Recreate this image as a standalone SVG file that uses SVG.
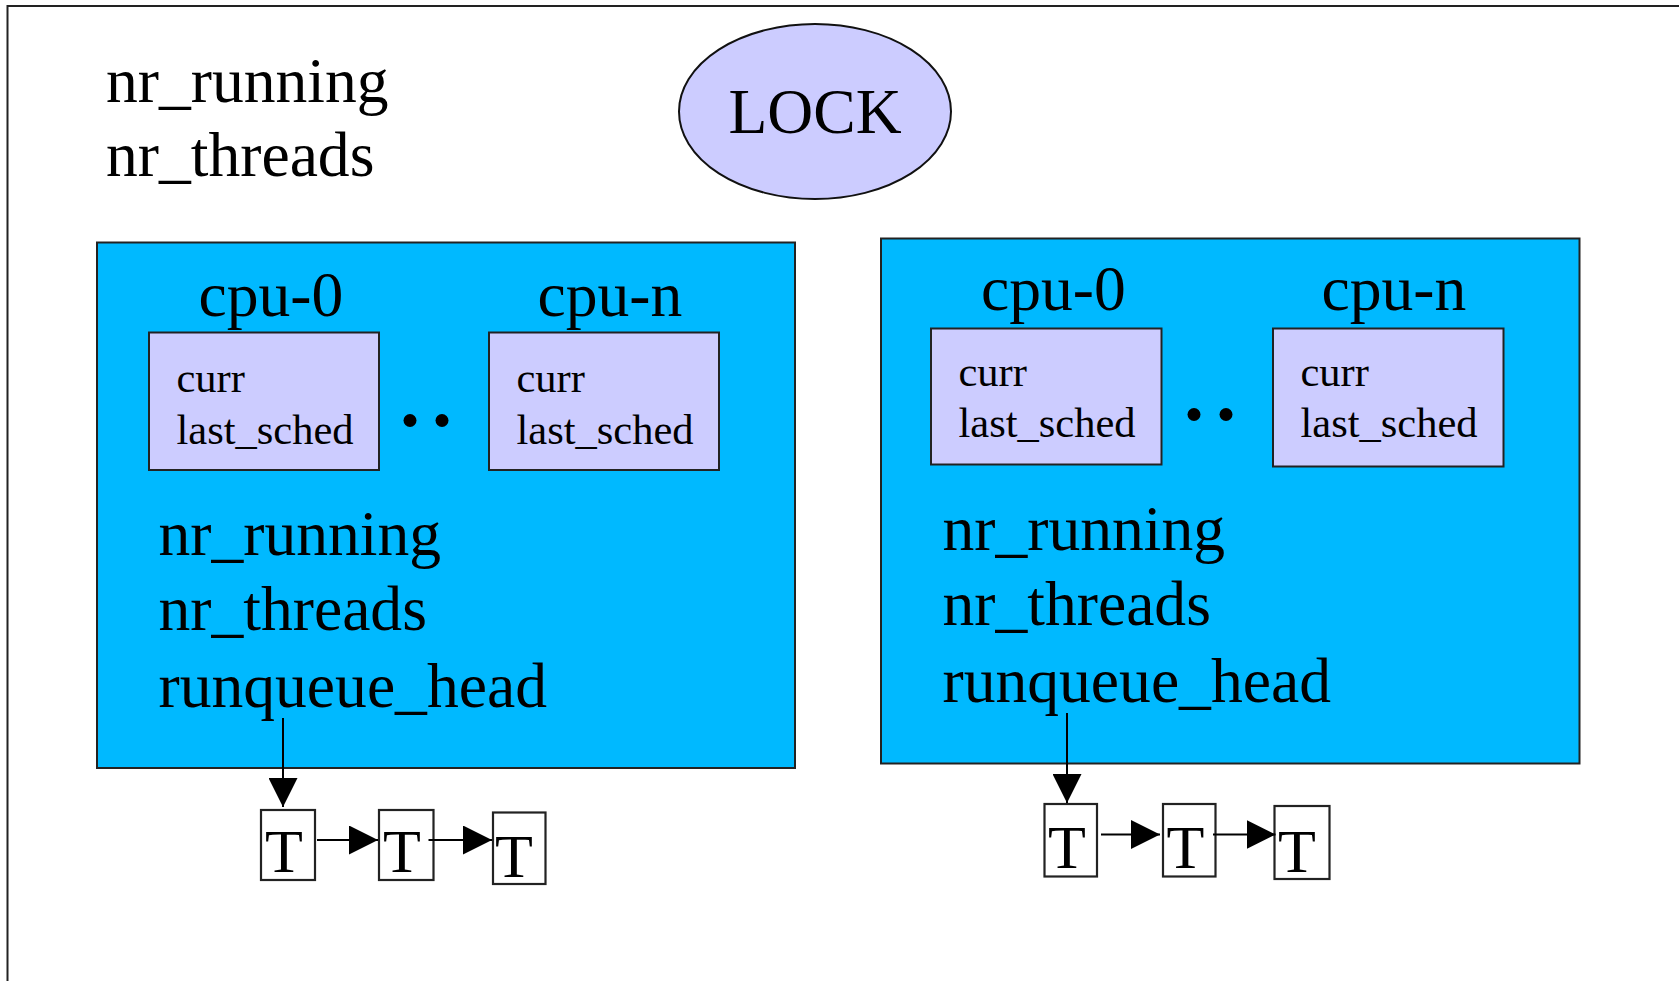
<svg xmlns="http://www.w3.org/2000/svg" width="1679" height="981" viewBox="0 0 1679 981">
  <style>
    .big { font-family: "Liberation Serif", "Times New Roman", serif; font-size: 63.6px; fill: #000; }
    .small { font-family: "Liberation Serif", "Times New Roman", serif; font-size: 42.5px; fill: #000; }
    .tl { font-family: "Liberation Serif", "Times New Roman", serif; font-size: 62px; fill: #000; }
    .rq { fill: #00b9ff; stroke: #222; stroke-width: 2; }
    .cpu { fill: #ccccff; stroke: #222; stroke-width: 2; }
    .task { fill: #fff; stroke: #222; stroke-width: 2.2; }
    .link { stroke: #000; stroke-width: 2; fill: none; marker-end: url(#head); }
  </style>
  <defs>
    <marker id="head" viewBox="0 0 29 29" refX="29" refY="14.5" markerWidth="29" markerHeight="29" markerUnits="userSpaceOnUse" orient="auto">
      <path d="M0,0 L29,14.5 L0,29 Z" fill="#000"/>
    </marker>
  </defs>

  <rect width="1679" height="981" fill="#fff"/>

  <!-- outer frame: open on right and bottom edges -->
  <rect id="frame" x="7.5" y="6" width="1700" height="1000" fill="none" stroke="#222" stroke-width="2"/>

  <g id="global-counters">
    <text class="big" x="106" y="102">nr_running</text>
    <text class="big" x="106" y="176">nr_threads</text>
  </g>

  <g id="lock">
    <ellipse cx="815" cy="111.5" rx="136" ry="87.5" fill="#ccccff" stroke="#111" stroke-width="2"/>
    <text class="big" x="815" y="133" text-anchor="middle">LOCK</text>
  </g>

  <!-- left runqueue -->
  <g id="runqueue-left">
    <rect class="rq" x="97" y="242.5" width="698" height="525.5"/>
    <text class="big" x="198.5" y="316">cpu-0</text>
    <text class="big" x="537.5" y="316">cpu-n</text>
    <text class="big" x="158.5" y="555">nr_running</text>
    <text class="big" x="158.5" y="630">nr_threads</text>
    <text class="big" x="158.5" y="706.5">runqueue_head</text>
  </g>
  <g id="cpu0-left">
    <rect class="cpu" x="149" y="332.5" width="230" height="137.5"/>
    <text class="small" x="176.5" y="391.5">curr</text>
    <text class="small" x="176.5" y="443.5">last_sched</text>
  </g>
  <g id="dots-left">
    <circle cx="410" cy="420.5" r="6.5" fill="#000"/>
    <circle cx="442" cy="420.5" r="6.5" fill="#000"/>
  </g>
  <g id="cpun-left">
    <rect class="cpu" x="489" y="332.5" width="230" height="137.5"/>
    <text class="small" x="516.5" y="391.5">curr</text>
    <text class="small" x="516.5" y="443.5">last_sched</text>
  </g>
  <g id="task-left-1">
    <rect class="task" x="261" y="810" width="54" height="70"/>
    <text class="tl" x="265" y="872">T</text>
  </g>
  <g id="task-left-2">
    <rect class="task" x="379" y="810" width="54.5" height="70"/>
    <text class="tl" x="383" y="872">T</text>
  </g>
  <g id="task-left-3">
    <rect class="task" x="493" y="812.5" width="52.5" height="71.5"/>
    <text class="tl" x="495" y="877">T</text>
  </g>

  <!-- right runqueue -->
  <g id="runqueue-right">
    <rect class="rq" x="881" y="238.5" width="698.5" height="525"/>
    <text class="big" x="981" y="310">cpu-0</text>
    <text class="big" x="1321.5" y="310">cpu-n</text>
    <text class="big" x="942.5" y="549.5">nr_running</text>
    <text class="big" x="942.5" y="624.5">nr_threads</text>
    <text class="big" x="942.5" y="702">runqueue_head</text>
  </g>
  <g id="cpu0-right">
    <rect class="cpu" x="931" y="328.5" width="230.5" height="136"/>
    <text class="small" x="958.5" y="385.5">curr</text>
    <text class="small" x="958.5" y="437">last_sched</text>
  </g>
  <g id="dots-right">
    <circle cx="1194" cy="414.5" r="6.5" fill="#000"/>
    <circle cx="1226" cy="414.5" r="6.5" fill="#000"/>
  </g>
  <g id="cpun-right">
    <rect class="cpu" x="1273" y="328.5" width="230.5" height="138"/>
    <text class="small" x="1300.5" y="385.5">curr</text>
    <text class="small" x="1300.5" y="437">last_sched</text>
  </g>
  <g id="task-right-1">
    <rect class="task" x="1044.5" y="804" width="52.5" height="72.5"/>
    <text class="tl" x="1048" y="868">T</text>
  </g>
  <g id="task-right-2">
    <rect class="task" x="1163" y="804" width="52.5" height="72.5"/>
    <text class="tl" x="1166.5" y="868">T</text>
  </g>
  <g id="task-right-3">
    <rect class="task" x="1274.5" y="806" width="55" height="73"/>
    <text class="tl" x="1278" y="872">T</text>
  </g>

  <g id="connectors">
    <path class="link" d="M283,718 L283,807"/>
    <path class="link" d="M317,840 L378,840"/>
    <path class="link" d="M428.5,840 L492,840"/>
    <path class="link" d="M1067,713 L1067,803"/>
    <path class="link" d="M1101,834.5 L1160,834.5"/>
    <path class="link" d="M1213,834.5 L1275.5,834.5"/>
  </g>
</svg>
